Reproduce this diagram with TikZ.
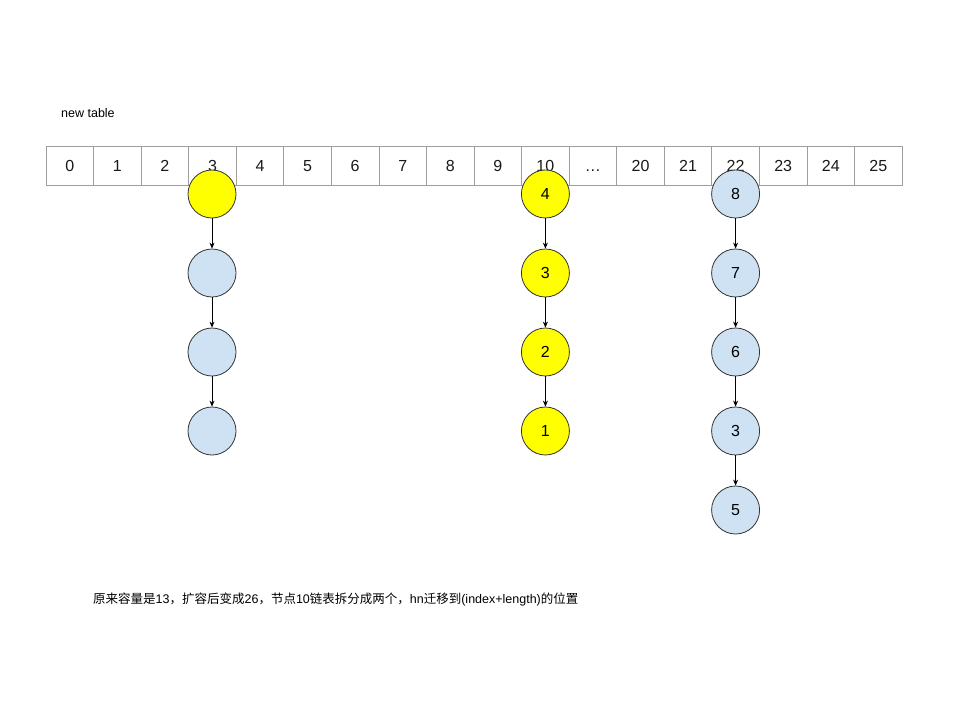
\documentclass[tikz,border=0pt]{standalone}
\usepackage{fontspec}
\setmainfont{Liberation Sans}
\newfontfamily\cjk{Noto Sans CJK SC}
\usetikzlibrary{arrows.meta}
\definecolor{cellgray}{HTML}{9E9E9E}
\definecolor{nodeblue}{HTML}{CFE2F3}
\definecolor{nodeyellow}{HTML}{FFFF00}
\tikzset{
  cellbox/.style={draw=cellgray, line width=0.8pt, minimum width=47.56pt, minimum height=39pt, inner sep=0pt, text height=11.5pt, text depth=0pt, font=\fontsize{16}{18}\selectfont, text=black!90},
  ynode/.style={circle, draw=black!80, line width=0.8pt, fill=nodeyellow, minimum size=48pt, inner sep=0pt, font=\fontsize{16}{18}\selectfont},
  bnode/.style={circle, draw=black!80, line width=0.8pt, fill=nodeblue, minimum size=48pt, inner sep=0pt, font=\fontsize{16}{18}\selectfont},
  link/.style={draw=black, line width=0.7pt, -{Stealth[length=6pt,width=5pt]}},
  lbl/.style={anchor=west, inner sep=0pt, font=\fontsize{12}{14}\selectfont}
}
\begin{document}
\begin{tikzpicture}[x=1pt,y=-1pt]
\useasboundingbox[fill=white] (0,0) rectangle (960,720);
\node[lbl, font=\fontsize{12.5}{14}\selectfont] (title) at (61,113) {new table};
\foreach \lab [count=\i from 0] in {0,1,2,3,4,5,6,7,8,9,10,{…},20,21,22,23,24,25}{
  \node[cellbox] (c\i) at ({46+47.56*(\i+0.5)},165.5) {\lab};
}
% column at cell 3
\node[ynode] (a1) at (212,194) {};
\node[bnode] (a2) at (212,273) {};
\node[bnode] (a3) at (212,352) {};
\node[bnode] (a4) at (212,431) {};
% column at cell 10
\node[ynode] (b1) at (545.4,194) {4};
\node[ynode] (b2) at (545.4,273) {3};
\node[ynode] (b3) at (545.4,352) {2};
\node[ynode] (b4) at (545.4,431) {1};
% column at cell 22
\node[bnode] (d1) at (735.6,194) {8};
\node[bnode] (d2) at (735.6,273) {7};
\node[bnode] (d3) at (735.6,352) {6};
\node[bnode] (d4) at (735.6,431) {3};
\node[bnode] (d5) at (735.6,510) {5};
\draw[link] (a1) -- (a2);
\draw[link] (a2) -- (a3);
\draw[link] (a3) -- (a4);
\draw[link] (b1) -- (b2);
\draw[link] (b2) -- (b3);
\draw[link] (b3) -- (b4);
\draw[link] (d1) -- (d2);
\draw[link] (d2) -- (d3);
\draw[link] (d3) -- (d4);
\draw[link] (d4) -- (d5);
\node[lbl, font=\fontsize{12.5}{14}\selectfont] (note) at (93,599) {{\cjk 原来容量是}13{\cjk ，扩容后变成}26{\cjk ，节点}10{\cjk 链表拆分成两个，}hn{\cjk 迁移到}(index+length){\cjk 的位置}};
\end{tikzpicture}
\end{document}
